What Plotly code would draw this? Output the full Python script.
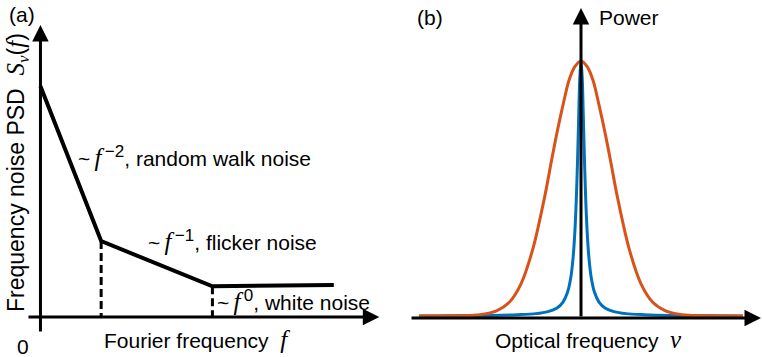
import plotly.graph_objects as go

W, H = 762, 357

# ---- Panel (a): piecewise frequency-noise PSD (arbitrary units) ----
psd_f = [0.0, 1.8, 5.1, 8.7]
psd_s = [7.9, 2.6, 1.05, 1.1]
corner_f = [1.8, 5.1]
corner_s = [2.6, 1.05]

# ---- Panel (b): laser line shapes, right half (mirrored about nu = 0) ----
nu_gauss = [0.0, 0.2, 0.4, 0.6, 0.8, 1.0, 1.2, 1.6, 2.0, 2.4, 2.8, 3.2, 3.6, 4.2, 5.4]
p_gauss = [1.0, 0.979, 0.925, 0.829, 0.722, 0.602, 0.478, 0.271, 0.133, 0.060, 0.029,
           0.016, 0.011, 0.009, 0.008]
nu_lor = [0.0, 0.04, 0.08, 0.12, 0.16, 0.2, 0.26, 0.34, 0.45, 0.6, 0.8, 1.1, 1.5, 2.1, 3.0, 4.2, 5.4]
p_lor = [1.0, 0.935, 0.770, 0.595, 0.452, 0.346, 0.240, 0.158, 0.100, 0.062, 0.039,
         0.025, 0.017, 0.013, 0.010, 0.009, 0.008]


def mirror(xs, ys):
    x = [-v for v in reversed(xs)] + xs[1:]
    y = list(reversed(ys)) + ys[1:]
    return x, y


gx, gy = mirror(nu_gauss, p_gauss)
lx, ly = mirror(nu_lor, p_lor)

SANS = "Liberation Sans, Arial, sans-serif"
FS = 21


def m(s, size=25):
    return f'<span style="font-family:Liberation Serif;font-size:{size}px"><i>{s}</i></span>'


def power(p):
    return "<sup>" + f'<span style="font-size:17px">\u2009{p}</span>' + "</sup>"


fig = go.Figure()

# Panel (a) traces
drop_x, drop_y = [], []
for f, s in zip(corner_f, corner_s):
    drop_x += [f, f, None]
    drop_y += [s, 0, None]
fig.add_trace(go.Scatter(x=drop_x, y=drop_y, mode="lines", xaxis="x", yaxis="y",
                         line=dict(color="black", width=3, dash="8px,4px"),
                         hoverinfo="skip"))
fig.add_trace(go.Scatter(x=psd_f, y=psd_s, mode="lines", xaxis="x", yaxis="y",
                         line=dict(color="black", width=4), hoverinfo="skip"))

# Panel (b) traces
fig.add_trace(go.Scatter(x=lx, y=ly, mode="lines", xaxis="x2", yaxis="y2",
                         line=dict(color="#0072BD", width=3, shape="spline", smoothing=0.8),
                         hoverinfo="skip"))
fig.add_trace(go.Scatter(x=gx, y=gy, mode="lines", xaxis="x2", yaxis="y2",
                         line=dict(color="#D95319", width=3, shape="spline", smoothing=0.8),
                         hoverinfo="skip"))


def arrow(xr, yr, x0, y0, x1, y1):
    return dict(xref=xr, yref=yr, axref=xr, ayref=yr, x=x1, y=y1, ax=x0, ay=y0,
                text="", showarrow=True, arrowhead=2, arrowsize=1.1, arrowwidth=3,
                arrowcolor="black", standoff=0, startstandoff=0)


def px(x, y):
    return x / W, 1 - y / H


def label(text, x, y, xanchor="left", angle=0, size=FS):
    xp, yp = px(x, y)
    return dict(xref="paper", yref="paper", x=xp, y=yp, text=text, showarrow=False,
                xanchor=xanchor, yanchor="middle", textangle=angle,
                font=dict(family=SANS, size=size, color="black"))


annotations = [
    arrow("x", "y", 0, -0.55, 0, 10.0),
    arrow("x", "y", -0.4, 0, 10.05, 0),
    arrow("x2", "y2", 0, 0, 0, 1.206),
    arrow("x2", "y2", -5.7, 0, 6.0, 0),
    label("(a)", 22, 15, "center"),
    label("(b)", 430, 17, "center"),
    label("0", 23, 346, "center"),
    label("~\u2009" + m("f") + power("−2") + ", random walk noise", 76, 156),
    label("~\u2009" + m("f") + power("−1") + ", flicker noise", 146, 240),
    label("~\u2009" + m("f") + power("0") + ", white noise", 215, 300),
    label("Fourier frequency  " + m("f"), 102, 339),
    label("Optical frequency  " + m("ν"), 493, 339),
    label("Power", 597, 17),
    label("Frequency noise PSD  " + m("S", 25) + "<sub>" + m("ν", 17) + "</sub>("
          + m("f", 25) + ")", 17, 173, "center", -90, 23),
]

hidden = dict(visible=False, fixedrange=True)
fig.update_layout(
    width=W, height=H,
    margin=dict(l=0, r=0, t=0, b=0),
    paper_bgcolor="white", plot_bgcolor="white",
    showlegend=False,
    xaxis=dict(domain=[0, 0.5], range=[-1.2, 10.1], **hidden),
    yaxis=dict(domain=[0, 1], range=[-1.370, 10.856], **hidden),
    xaxis2=dict(domain=[0.5, 1], range=[-6.667, 6.033], **hidden),
    yaxis2=dict(domain=[0, 1], range=[-0.1518, 1.2374], anchor="x2", **hidden),
    annotations=annotations,
)

fig.write_html("out.html")
